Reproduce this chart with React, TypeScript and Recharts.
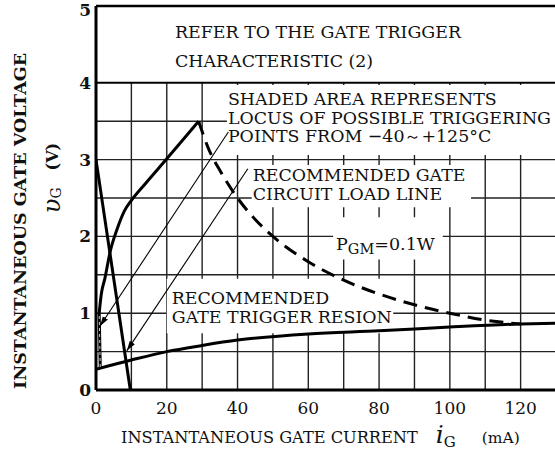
import React from 'react'
import {
  LineChart, Line, XAxis, YAxis,
  ReferenceArea, ReferenceLine,
} from 'recharts'

const FONT = '"DejaVu Serif", "Liberation Serif", serif'

const xTicks = [0, 20, 40, 60, 80, 100, 120]
const yTicks = [0, 1, 2, 3, 4, 5]
const gridX = [10, 20, 30, 40, 50, 60, 70, 80, 90, 100, 110, 120, 130]
const gridY = [0.5, 1, 1.5, 2, 2.5, 3, 3.5]

// left edge of the triggering area (near iG = 1 mA)
const leftEdge = [
  { x: 1.2, y: 0.3 },
  { x: 0.9, y: 1.0 },
]
// upper boundary of the triggering area
const upperCurve = [
  { x: 0.9, y: 1.0 },
  { x: 1.5, y: 1.25 },
  { x: 2.5, y: 1.45 },
  { x: 4, y: 1.8 },
  { x: 6, y: 2.1 },
  { x: 8, y: 2.33 },
  { x: 10, y: 2.47 },
  { x: 14, y: 2.69 },
  { x: 20, y: 3.01 },
  { x: 25, y: 3.28 },
  { x: 29, y: 3.5 },
]
// lower boundary (minimum trigger voltage)
const lowerCurve = [
  { x: 0, y: 0.27 },
  { x: 10, y: 0.39 },
  { x: 20, y: 0.5 },
  { x: 30, y: 0.58 },
  { x: 40, y: 0.65 },
  { x: 60, y: 0.73 },
  { x: 80, y: 0.77 },
  { x: 100, y: 0.82 },
  { x: 120, y: 0.86 },
  { x: 130, y: 0.87 },
]
const loadLine = [
  { x: 0, y: 3.0 },
  { x: 9.7, y: 0 },
]
// PGM = 0.1W
const pgmCurve = [
  { x: 29, y: 3.5 },
  { x: 32, y: 3.12 },
  { x: 35, y: 2.86 },
  { x: 40, y: 2.5 },
  { x: 45, y: 2.22 },
  { x: 50, y: 2.0 },
  { x: 60, y: 1.67 },
  { x: 70, y: 1.43 },
  { x: 80, y: 1.25 },
  { x: 90, y: 1.11 },
  { x: 100, y: 1.0 },
  { x: 110, y: 0.91 },
  { x: 120, y: 0.86 },
]
const arrowLocus = [
  { x: 37.4, y: 3.36 },
  { x: 1.1, y: 0.83 },
]
const arrowLoad = [
  { x: 42.9, y: 2.88 },
  { x: 8.7, y: 0.51 },
]

const headerText = ['REFER TO THE GATE TRIGGER', 'CHARACTERISTIC (2)']
const locusText = ['SHADED AREA REPRESENTS', 'LOCUS OF POSSIBLE TRIGGERING', 'POINTS FROM \u221240\uFF5E+125\u00B0C']
const loadText = ['RECOMMENDED GATE', 'CIRCUIT LOAD LINE']
const regionText = ['RECOMMENDED', 'GATE TRIGGER RESION']

function Note(props: any) {
  const { viewBox, lines, dx, dy, gap } = props
  const x = viewBox.x + dx
  return (
    <text x={x} y={viewBox.y + dy} fontFamily={FONT} fontSize={17.4} fill="#111">
      {lines.map((l: string, i: number) => (
        <tspan key={i} x={x} dy={i === 0 ? 0 : gap}>{l}</tspan>
      ))}
    </text>
  )
}

function PgmNote(props: any) {
  const { viewBox } = props
  return (
    <text x={viewBox.x + 3} y={viewBox.y + 33} fontFamily={FONT} fontSize={17.5} fill="#111">
      <tspan>P</tspan>
      <tspan dy={4} fontSize={14.5}>GM</tspan>
      <tspan dy={-4}>{'=0.1W'}</tspan>
    </text>
  )
}

function YTitle(props: any) {
  const { viewBox } = props
  const cx1 = viewBox.x + 20
  const cy1 = viewBox.y + 215
  const cx2 = viewBox.x + 52
  const cy2 = viewBox.y + 172
  return (
    <g fontFamily={FONT} fill="#111">
      <text x={cx1} y={cy1} transform={`rotate(-90 ${cx1} ${cy1})`} textAnchor="middle"
        dominantBaseline="central" fontSize={17.5} fontWeight="bold">
        INSTANTANEOUS GATE VOLTAGE
      </text>
      <text x={cx2} y={cy2} transform={`rotate(-90 ${cx2} ${cy2})`} textAnchor="middle"
        dominantBaseline="central" fontSize={16}>
        <tspan fontStyle="italic" fontSize={24}>{'\u03C5'}</tspan>
        <tspan dy={4} fontSize={14}>G</tspan>
        <tspan dy={-4} dx={17} fontWeight="bold">(V)</tspan>
      </text>
    </g>
  )
}

function XTitle(props: any) {
  const { viewBox } = props
  const x = viewBox.x + 25
  const y = viewBox.y + 53
  return (
    <text x={x} y={y} fontFamily={FONT} fontSize={16.2} fill="#111">
      <tspan>INSTANTANEOUS GATE CURRENT</tspan>
      <tspan dx={18} fontStyle="italic" fontSize={25}>i</tspan>
      <tspan dy={4} fontSize={15}>G</tspan>
      <tspan dy={-4} dx={26} fontSize={15.5}>(mA)</tspan>
    </text>
  )
}

export default function App() {
  return (
    <div style={{ position: 'absolute', left: 0, top: 0, width: 555, height: 457, overflow: 'hidden', background: '#fff' }}>
      <LineChart width={560} height={457} margin={{ top: 6, right: 4, left: 0, bottom: 0 }}>
        <defs>
          <marker id="arrowHead" viewBox="0 0 10 10" refX="10" refY="5" markerWidth="10" markerHeight="10"
            markerUnits="userSpaceOnUse" orient="auto">
            <path d="M0,2 L10,5 L0,8 z" fill="#000" />
          </marker>
        </defs>
        <XAxis
          type="number"
          dataKey="x"
          domain={[0, 130]}
          ticks={xTicks}
          allowDataOverflow
          height={67}
          tickSize={0}
          tickMargin={12}
          axisLine={{ stroke: '#000', strokeWidth: 3 }}
          tick={{ fontSize: 17, fill: '#111', fontFamily: FONT }}
          label={<XTitle />}
        />
        <YAxis
          type="number"
          dataKey="y"
          domain={[0, 5]}
          ticks={yTicks}
          allowDataOverflow
          width={96}
          tickSize={0}
          tickMargin={5}
          axisLine={{ stroke: '#000', strokeWidth: 3 }}
          tick={{ fontSize: 17, fill: '#111', fontFamily: FONT, fontWeight: 'bold' }}
          label={<YTitle />}
        />

        {gridX.map((v) => (
          <ReferenceLine key={`gx${v}`} zIndex={-50} segment={[{ x: v, y: 0 }, { x: v, y: 4 }]} stroke="#222" strokeWidth={1.4} />
        ))}
        {gridY.map((v) => (
          <ReferenceLine key={`gy${v}`} zIndex={-50} segment={[{ x: 0, y: v }, { x: 130, y: v }]} stroke="#222" strokeWidth={1.4} />
        ))}

        <ReferenceArea zIndex={50} x1={0} x2={130} y1={4} y2={5} fill="#fff" fillOpacity={1} stroke="none"
          label={<Note lines={headerText} dx={79} dy={32} gap={29} />} />
        <ReferenceArea zIndex={50} x1={37} x2={130} y1={3.06} y2={3.97} fill="#fff" fillOpacity={1} stroke="none"
          label={<Note lines={locusText} dx={1} dy={20} gap={18.5} />} />
        <ReferenceArea zIndex={50} x1={44} x2={106} y1={2.38} y2={2.93} fill="#fff" fillOpacity={1} stroke="none"
          label={<Note lines={loadText} dx={1} dy={16} gap={19} />} />
        <ReferenceArea zIndex={50} x1={67} x2={98} y1={1.7} y2={2.25} fill="#fff" fillOpacity={1} stroke="none"
          label={<PgmNote />} />
        <ReferenceArea zIndex={50} x1={20} x2={84} y1={0.74} y2={1.45} fill="#fff" fillOpacity={1} stroke="none"
          label={<Note lines={regionText} dx={5} dy={25} gap={19} />} />

        <ReferenceLine y={4} stroke="#000" strokeWidth={2} />
        <ReferenceLine y={5} stroke="#000" strokeWidth={2.5} />

        <Line data={arrowLocus} dataKey="y" type="linear" stroke="#000" strokeWidth={1.1}
          dot={false} markerEnd="url(#arrowHead)" isAnimationActive={false} />
        <Line data={arrowLoad} dataKey="y" type="linear" stroke="#000" strokeWidth={1.1}
          dot={false} markerEnd="url(#arrowHead)" isAnimationActive={false} />
        <Line data={lowerCurve} dataKey="y" type="monotone" stroke="#000" strokeWidth={3}
          dot={false} isAnimationActive={false} />
        <Line data={leftEdge} dataKey="y" type="linear" stroke="#000" strokeWidth={3}
          dot={false} isAnimationActive={false} />
        <Line data={leftEdge} dataKey="y" type="linear" stroke="#fff" strokeWidth={0.8} strokeDasharray="3 3"
          dot={false} isAnimationActive={false} />
        <Line data={upperCurve} dataKey="y" type="monotone" stroke="#000" strokeWidth={3}
          dot={false} isAnimationActive={false} />
        <Line data={loadLine} dataKey="y" type="linear" stroke="#000" strokeWidth={3}
          dot={false} isAnimationActive={false} />
        <Line data={pgmCurve} dataKey="y" type="monotone" stroke="#000" strokeWidth={3}
          strokeDasharray="14 8" dot={false} isAnimationActive={false} />
      </LineChart>
    </div>
  )
}
